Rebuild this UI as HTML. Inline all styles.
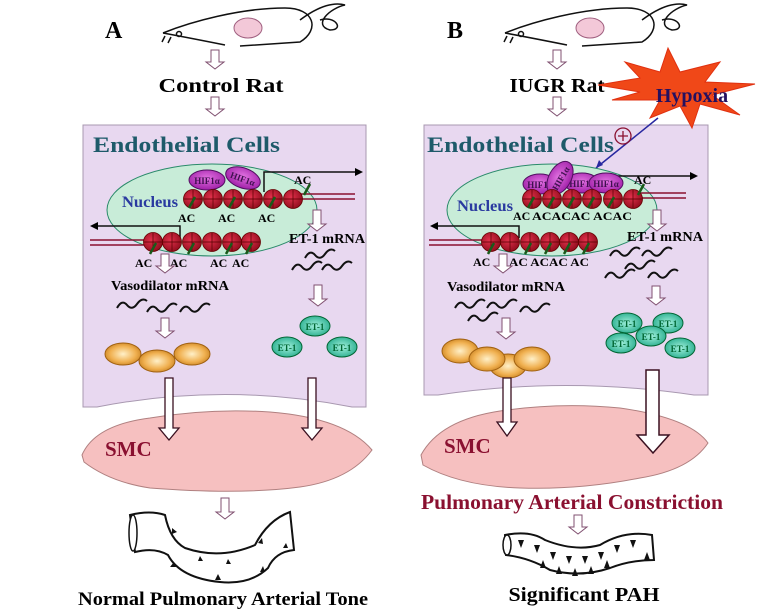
<!DOCTYPE html>
<html><head><meta charset="utf-8"><style>
html,body{margin:0;padding:0;background:#fff}
svg{display:block}
text{font-family:"Liberation Serif",serif;font-weight:bold}
</style></head><body>
<svg width="762" height="615" viewBox="0 0 762 615" xmlns="http://www.w3.org/2000/svg">
<defs>
<radialGradient id="bead" cx="0.4" cy="0.4" r="0.7"><stop offset="0" stop-color="#e0304a"/><stop offset="1" stop-color="#8a0a1a"/></radialGradient>
<radialGradient id="orng" cx="0.5" cy="0.5" r="0.6"><stop offset="0" stop-color="#fff0c8"/><stop offset="0.6" stop-color="#f0b050"/><stop offset="1" stop-color="#c07818"/></radialGradient>
<radialGradient id="teal" cx="0.5" cy="0.5" r="0.6"><stop offset="0" stop-color="#a0f0dc"/><stop offset="1" stop-color="#20a888"/></radialGradient>
<radialGradient id="hif" cx="0.5" cy="0.4" r="0.6"><stop offset="0" stop-color="#e070e0"/><stop offset="1" stop-color="#a020a8"/></radialGradient>
<g id="b"><circle r="9.5" fill="url(#bead)" stroke="#600" stroke-width="0.8"/><path d="M-9 0H9M0-9V9" stroke="#500" stroke-width="0.7"/></g>
<g id="ac"><path d="M-2 8L4 -3" stroke="#1a5a1a" stroke-width="2.5"/></g>
<path id="sq" d="M0 6 q5 -9 10 -3 t10 -1 t10 -3" fill="none" stroke="#111" stroke-width="2"/>
</defs>

<!-- ===== PANEL A ===== -->
<text x="105" y="38" font-size="24">A</text>
<g fill="none" stroke="#111" stroke-width="1.5">
<path d="M163 33 C190 22 240 8 285 8 C315 8 320 30 300 42 L240 46"/>
<path d="M163 33 C190 38 210 42 225 45"/>
<path d="M300 20 C320 5 335 2 345 5 C330 8 312 25 330 30 C345 30 335 15 320 20"/>
<path d="M162 42l3-6M168 43l3-6"/>
<circle cx="179" cy="34" r="2.5"/>
</g>
<ellipse cx="248" cy="28" rx="14" ry="10" fill="#f3c8d8" stroke="#a06080"/>
<path d="M211 50h8v12h5l-9 7-9-7h5z" fill="#fff" stroke="#805070"/>
<text x="221" y="92" font-size="20" text-anchor="middle" textLength="125" lengthAdjust="spacingAndGlyphs">Control Rat</text>
<path d="M211 97h8v12h5l-9 7-9-7h5z" fill="#fff" stroke="#805070"/>

<path d="M83 125H366V407H352Q225 382 97 407H83Z" fill="#e8d8f0" stroke="#a898b0"/>
<text x="93" y="152" font-size="22" fill="#1e5a6a" textLength="187" lengthAdjust="spacingAndGlyphs">Endothelial Cells</text>
<ellipse cx="212" cy="210" rx="105" ry="46" fill="#c8ecd8" stroke="#2a8a6a"/>
<text x="122" y="207" font-size="16" fill="#2a3aa0" textLength="56" lengthAdjust="spacingAndGlyphs">Nucleus</text>
<path d="M300 194H355M300 199H355" stroke="#8a1030" stroke-width="1.5"/>
<path d="M264 192V172H355" fill="none" stroke="#111" stroke-width="1.5"/><path d="M355 168l8 4-8 4z"/>
<ellipse cx="207" cy="180" rx="18" ry="10" fill="url(#hif)" stroke="#501060"/>
<ellipse cx="243" cy="178" rx="18" ry="10" fill="url(#hif)" stroke="#501060" transform="rotate(20 243 178)"/>
<text x="207" y="184" font-size="9" text-anchor="middle" fill="#401050">HIF1α</text>
<text x="243" y="182" font-size="9" text-anchor="middle" fill="#401050" transform="rotate(20 243 178)">HIF1α</text>
<use href="#b" x="193" y="199"/><use href="#b" x="213" y="199"/><use href="#b" x="233" y="199"/><use href="#b" x="253" y="199"/><use href="#b" x="273" y="199"/><use href="#b" x="293" y="199"/>
<use href="#ac" x="191" y="200"/><use href="#ac" x="231" y="200"/><use href="#ac" x="271" y="200"/><use href="#ac" x="306" y="187"/>
<g font-size="12"><text x="178" y="222">AC</text><text x="218" y="222">AC</text><text x="258" y="222">AC</text><text x="294" y="184">AC</text></g>
<path d="M90 240H150M90 245H150" stroke="#8a1030" stroke-width="1.5"/>
<path d="M180 238V226H98" fill="none" stroke="#111" stroke-width="1.5"/><path d="M98 222l-8 4 8 4z"/>
<use href="#b" x="153" y="242"/><use href="#b" x="172" y="242"/><use href="#b" x="192" y="242"/><use href="#b" x="212" y="242"/><use href="#b" x="232" y="242"/><use href="#b" x="251" y="242"/>
<use href="#ac" x="152" y="246"/><use href="#ac" x="190" y="246"/><use href="#ac" x="228" y="246"/><use href="#ac" x="248" y="246"/>
<g font-size="12"><text x="135" y="267">AC</text><text x="170" y="267">AC</text><text x="210" y="267">AC</text><text x="232" y="267">AC</text></g>
<path d="M161 254h8v12h5l-9 7-9-7h5z" fill="#fff" stroke="#805070"/>
<path d="M313 210h8v14h5l-9 7-9-7h5z" fill="#fff" stroke="#805070"/>
<text x="289" y="243" font-size="14" textLength="76" lengthAdjust="spacingAndGlyphs">ET-1 mRNA</text>
<text x="111" y="290" font-size="14" textLength="118" lengthAdjust="spacingAndGlyphs">Vasodilator mRNA</text>
<use href="#sq" x="117" y="302"/><use href="#sq" x="147" y="306"/><use href="#sq" x="180" y="306"/>
<use href="#sq" x="305" y="252"/><use href="#sq" x="292" y="264"/><use href="#sq" x="322" y="264"/>
<path d="M161 318h8v13h5l-9 7-9-7h5z" fill="#fff" stroke="#805070"/>
<path d="M314 285h8v14h5l-9 7-9-7h5z" fill="#fff" stroke="#805070"/>
<ellipse cx="123" cy="354" rx="18" ry="11" fill="url(#orng)" stroke="#a06010"/>
<ellipse cx="157" cy="361" rx="18" ry="11" fill="url(#orng)" stroke="#a06010"/>
<ellipse cx="192" cy="354" rx="18" ry="11" fill="url(#orng)" stroke="#a06010"/>
<g font-size="9" text-anchor="middle" fill="#063">
<ellipse cx="315" cy="326" rx="15" ry="10" fill="url(#teal)" stroke="#063"/><text x="315" y="330">ET-1</text>
<ellipse cx="287" cy="347" rx="15" ry="10" fill="url(#teal)" stroke="#063"/><text x="287" y="351">ET-1</text>
<ellipse cx="342" cy="347" rx="15" ry="10" fill="url(#teal)" stroke="#063"/><text x="342" y="351">ET-1</text>
</g>
<path d="M82 455Q95 425 150 418Q210 408 270 412Q345 418 372 450Q350 480 300 487Q240 495 150 488Q110 482 84 462Z" fill="#f6c0c0" stroke="#b08080"/>
<path d="M165 378h8v50h6l-10 12-10-12h6z" fill="#fff" stroke="#3a1020" stroke-width="1.3"/>
<path d="M308 378h8v50h6l-10 12-10-12h6z" fill="#fff" stroke="#3a1020" stroke-width="1.3"/>
<text x="105" y="456" font-size="21" fill="#8a1030">SMC</text>
<path d="M221 498h8v14h5l-9 7-9-7h5z" fill="#fff" stroke="#805070"/>
<path d="M130 515Q150 510 165 515Q170 540 185 548Q220 560 255 545Q268 520 290 512L294 550Q275 552 268 568Q250 585 220 582Q180 578 168 555Q155 547 135 552Z" fill="#fff" stroke="#111" stroke-width="2"/>
<ellipse cx="133" cy="533" rx="4" ry="18" fill="#fff" stroke="#111" stroke-width="1.5"/>
<g fill="#111"><path d="M172 528l5 4-5 2z"/><path d="M200 556l3 5-5 0z"/><path d="M228 559l3 5-5 0z"/><path d="M262 538l-4 5 5 1z"/><path d="M170 567l4-5 2 5z"/><path d="M215 580l3-6 3 6z"/><path d="M260 572l3-6 2 6z"/><path d="M283 548l3-5 2 5z"/></g>
<text x="223" y="605" font-size="19" text-anchor="middle" textLength="290" lengthAdjust="spacingAndGlyphs">Normal Pulmonary Arterial Tone</text>

<!-- ===== PANEL B ===== -->
<text x="447" y="38" font-size="24">B</text>
<g fill="none" stroke="#111" stroke-width="1.5">
<path d="M505 33 C532 22 582 8 627 8 C657 8 662 30 642 42 L582 46"/>
<path d="M505 33 C532 38 552 42 567 45"/>
<path d="M642 20 C662 5 677 2 687 5 C672 8 654 25 672 30 C687 30 677 15 662 20"/>
<path d="M504 42l3-6M510 43l3-6"/>
<circle cx="521" cy="34" r="2.5"/>
</g>
<ellipse cx="590" cy="28" rx="14" ry="10" fill="#f3c8d8" stroke="#a06080"/>
<path d="M553 50h8v12h5l-9 7-9-7h5z" fill="#fff" stroke="#805070"/>
<text x="557" y="92" font-size="20" text-anchor="middle" textLength="95" lengthAdjust="spacingAndGlyphs">IUGR Rat</text>
<path d="M553 97h8v12h5l-9 7-9-7h5z" fill="#fff" stroke="#805070"/>

<path d="M424 125H708V395H694Q566 376 438 395H424Z" fill="#e8d8f0" stroke="#a898b0"/>
<path d="M598 85L640 78L625 62L660 72L668 48L680 72L720 62L705 82L755 84L712 95L740 115L700 104L692 128L680 106L650 118L660 100L612 100L640 92Z" fill="#f04818" stroke="#e03010"/>
<text x="692" y="102" font-size="20" text-anchor="middle" fill="#241060">Hypoxia</text>
<path d="M658 118L596 168" stroke="#2828a0" stroke-width="1.5"/><path d="M596 168l3-8 4 5z" fill="#2828a0"/>
<circle cx="623" cy="136" r="8" fill="none" stroke="#8a1030" stroke-width="1.3"/><path d="M618 136h10M623 131v10" stroke="#8a1030" stroke-width="1.3"/>
<text x="427" y="152" font-size="22" fill="#1e5a6a" textLength="187" lengthAdjust="spacingAndGlyphs">Endothelial Cells</text>
<ellipse cx="552" cy="210" rx="105" ry="46" fill="#c8ecd8" stroke="#2a8a6a"/>
<text x="457" y="211" font-size="16" fill="#2a3aa0" textLength="56" lengthAdjust="spacingAndGlyphs">Nucleus</text>
<path d="M640 193H686M640 198H686" stroke="#8a1030" stroke-width="1.5"/>
<path d="M610 186V176H690" fill="none" stroke="#111" stroke-width="1.5"/><path d="M690 172l8 4-8 4z"/>
<g font-size="9" text-anchor="middle" fill="#401050">
<ellipse cx="540" cy="184" rx="17" ry="10" fill="url(#hif)" stroke="#501060"/><text x="540" y="188">HIF1α</text>
<ellipse cx="582" cy="183" rx="17" ry="10" fill="url(#hif)" stroke="#501060"/><text x="582" y="187">HIF1α</text>
<ellipse cx="606" cy="183" rx="17" ry="10" fill="url(#hif)" stroke="#501060"/><text x="606" y="187">HIF1α</text>
<ellipse cx="560" cy="178" rx="18" ry="11" fill="url(#hif)" stroke="#501060" transform="rotate(-60 560 178)"/><text x="560" y="182" transform="rotate(-60 560 178)">HIF1α</text>
</g>
<use href="#b" x="532" y="199"/><use href="#b" x="552" y="199"/><use href="#b" x="572" y="199"/><use href="#b" x="592" y="199"/><use href="#b" x="613" y="199"/><use href="#b" x="633" y="199"/>
<use href="#ac" x="530" y="200"/><use href="#ac" x="550" y="200"/><use href="#ac" x="570" y="200"/><use href="#ac" x="590" y="200"/><use href="#ac" x="610" y="200"/><use href="#ac" x="640" y="187"/>
<g font-size="12"><text x="513" y="220">AC</text><text x="532" y="220" textLength="100" lengthAdjust="spacingAndGlyphs">ACACAC ACAC</text><text x="634" y="184">AC</text></g>
<path d="M429 240H490M429 245H490" stroke="#8a1030" stroke-width="1.5"/>
<path d="M519 238V226H438" fill="none" stroke="#111" stroke-width="1.5"/><path d="M438 222l-8 4 8 4z"/>
<use href="#b" x="491" y="242"/><use href="#b" x="510" y="242"/><use href="#b" x="530" y="242"/><use href="#b" x="550" y="242"/><use href="#b" x="569" y="242"/><use href="#b" x="588" y="242"/>
<use href="#ac" x="490" y="246"/><use href="#ac" x="527" y="246"/><use href="#ac" x="547" y="246"/><use href="#ac" x="566" y="246"/><use href="#ac" x="585" y="246"/>
<g font-size="12"><text x="473" y="266">AC</text><text x="509" y="266" textLength="80" lengthAdjust="spacingAndGlyphs">AC ACAC AC</text></g>
<path d="M499 254h8v12h5l-9 7-9-7h5z" fill="#fff" stroke="#805070"/>
<path d="M653 210h8v14h5l-9 7-9-7h5z" fill="#fff" stroke="#805070"/>
<text x="627" y="241" font-size="14" textLength="76" lengthAdjust="spacingAndGlyphs">ET-1 mRNA</text>
<text x="447" y="291" font-size="14" textLength="118" lengthAdjust="spacingAndGlyphs">Vasodilator mRNA</text>
<use href="#sq" x="455" y="302"/><use href="#sq" x="487" y="302"/><use href="#sq" x="520" y="306"/><use href="#sq" x="468" y="315"/>
<use href="#sq" x="610" y="250"/><use href="#sq" x="642" y="250"/><use href="#sq" x="625" y="263"/><use href="#sq" x="605" y="272"/><use href="#sq" x="648" y="272"/>
<path d="M502 318h8v14h5l-9 7-9-7h5z" fill="#fff" stroke="#805070"/>
<path d="M652 286h8v12h5l-9 7-9-7h5z" fill="#fff" stroke="#805070"/>
<ellipse cx="460" cy="351" rx="18" ry="12" fill="url(#orng)" stroke="#a06010"/>
<ellipse cx="508" cy="366" rx="18" ry="12" fill="url(#orng)" stroke="#a06010"/>
<ellipse cx="487" cy="359" rx="18" ry="12" fill="url(#orng)" stroke="#a06010"/>
<ellipse cx="532" cy="359" rx="18" ry="12" fill="url(#orng)" stroke="#a06010"/>
<g font-size="9" text-anchor="middle" fill="#063">
<ellipse cx="627" cy="323" rx="15" ry="10" fill="url(#teal)" stroke="#063"/><text x="627" y="327">ET-1</text>
<ellipse cx="668" cy="323" rx="15" ry="10" fill="url(#teal)" stroke="#063"/><text x="668" y="327">ET-1</text>
<ellipse cx="621" cy="343" rx="15" ry="10" fill="url(#teal)" stroke="#063"/><text x="621" y="347">ET-1</text>
<ellipse cx="651" cy="336" rx="15" ry="10" fill="url(#teal)" stroke="#063"/><text x="651" y="340">ET-1</text>
<ellipse cx="680" cy="348" rx="15" ry="10" fill="url(#teal)" stroke="#063"/><text x="680" y="352">ET-1</text>
</g>
<path d="M421 455Q440 420 500 411Q560 402 620 408Q690 418 708 443Q690 470 640 478Q580 490 520 488Q460 486 423 465Z" fill="#f6c0c0" stroke="#b08080"/>
<path d="M503 378h8v44h6l-10 14-10-14h6z" fill="#fff" stroke="#3a1020" stroke-width="1.3"/>
<path d="M646 370h13v65h10l-16 18-16-18h9z" fill="#fff" stroke="#3a1020" stroke-width="1.5"/>
<text x="444" y="453" font-size="21" fill="#8a1030">SMC</text>
<text x="572" y="509" font-size="21" text-anchor="middle" fill="#8a1030" textLength="302" lengthAdjust="spacingAndGlyphs">Pulmonary Arterial Constriction</text>
<path d="M574 515h8v12h5l-9 7-9-7h5z" fill="#fff" stroke="#805070"/>
<path d="M505 535Q530 530 545 540Q575 552 600 545Q625 530 652 535L654 560Q630 560 610 568Q580 578 550 570Q530 558 506 555Z" fill="#fff" stroke="#111" stroke-width="2"/>
<ellipse cx="507" cy="545" rx="4" ry="10" fill="#fff" stroke="#111" stroke-width="1.5"/>
<g fill="#111"><path d="M518 540l3 8 3-8z"/><path d="M534 545l3 8 3-8z"/><path d="M550 552l3 8 3-8z"/><path d="M566 556l3 8 3-8z"/><path d="M582 556l3 8 3-8z"/><path d="M598 552l3 8 3-8z"/><path d="M614 545l3 8 3-8z"/><path d="M630 540l3 8 3-8z"/>
<path d="M540 568l3-8 3 8z"/><path d="M556 574l3-8 3 8z"/><path d="M572 576l3-8 3 8z"/><path d="M588 574l3-8 3 8z"/><path d="M604 568l3-8 3 8z"/><path d="M644 560l3-8 3 8z"/></g>
<text x="584" y="601" font-size="20" text-anchor="middle" textLength="151" lengthAdjust="spacingAndGlyphs">Significant PAH</text>
</svg>
</body></html>
